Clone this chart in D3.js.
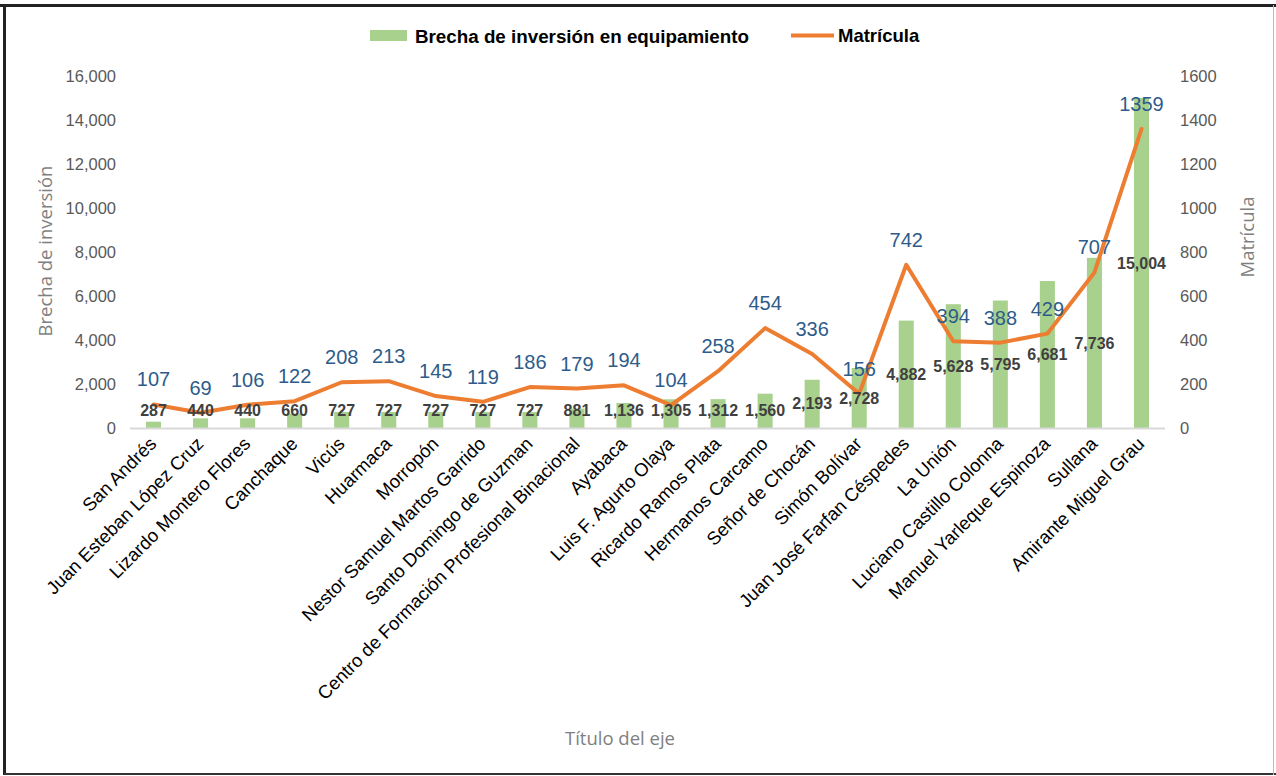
<!DOCTYPE html>
<html><head><meta charset="utf-8">
<script src="https://cdn.jsdelivr.net/npm/d3@7"></script>
<style>
html,body{margin:0;padding:0;background:#fff;}
svg{display:block;}
</style></head>
<body>
<svg id="chart" width="1276" height="776"></svg>
<script>
const categories = ["San Andrés","Juan Esteban López Cruz","Lizardo Montero Flores","Canchaque","Vicús","Huarmaca","Morropón","Nestor Samuel Martos Garrido","Santo Domingo de Guzman","Centro de Formación Profesional Binacional","Ayabaca","Luis F. Agurto Olaya","Ricardo Ramos Plata","Hermanos Carcamo","Señor de Chocán","Simón Bolívar","Juan José Farfan Céspedes","La Unión","Luciano Castillo Colonna","Manuel Yarleque Espinoza","Sullana","Amirante Miguel Grau"];
const brecha = [287,440,440,660,727,727,727,727,727,881,1136,1305,1312,1560,2193,2728,4882,5628,5795,6681,7736,15004];
const matricula = [107,69,106,122,208,213,145,119,186,179,194,104,258,454,336,156,742,394,388,429,707,1359];
const leftTicks = [0,2000,4000,6000,8000,10000,12000,14000,16000];
const rightTicks = [0,200,400,600,800,1000,1200,1400,1600];
const seriesNames = ["Brecha de inversión en equipamiento","Matrícula"];

const svg = d3.select("#chart");
const W = 1276, H = 776;
const font = "Arial, 'Liberation Sans', sans-serif";

// frame
svg.append("rect").attr("x",0).attr("y",0).attr("width",W).attr("height",H).attr("fill","#fff");
svg.append("line").attr("x1",0).attr("x2",W).attr("y1",5.5).attr("y2",5.5).attr("stroke","#222").attr("stroke-width",3);
svg.append("line").attr("x1",4.5).attr("x2",4.5).attr("y1",5).attr("y2",775).attr("stroke","#222").attr("stroke-width",3);
svg.append("line").attr("x1",4).attr("x2",W).attr("y1",774).attr("y2",774).attr("stroke","#333").attr("stroke-width",2);
svg.append("line").attr("x1",1273.5).attr("x2",1273.5).attr("y1",5).attr("y2",775).attr("stroke","#bbb").attr("stroke-width",1);

const x = d3.scaleBand().domain(categories).range([130,1165]).paddingInner(0.68).paddingOuter(0.34);
const yL = d3.scaleLinear().domain([0,16000]).range([428,76]);
const yR = d3.scaleLinear().domain([0,1600]).range([428,76]);

// left axis
const gL = svg.append("g").attr("transform","translate(130,0)")
  .call(d3.axisLeft(yL).tickValues(leftTicks).tickFormat(d3.format(",")).tickSize(0).tickPadding(14));
gL.select(".domain").remove();
gL.selectAll("text").attr("font-family",font).attr("font-size",16.5).attr("fill","#595959");

// right axis
const gR = svg.append("g").attr("transform","translate(1165,0)")
  .call(d3.axisRight(yR).tickValues(rightTicks).tickFormat(d3.format("d")).tickSize(0).tickPadding(15));
gR.select(".domain").remove();
gR.selectAll("text").attr("font-family",font).attr("font-size",16.5).attr("fill","#595959");

// bars
svg.append("g").selectAll("rect").data(brecha).join("rect")
  .attr("x",(d,i)=>x(categories[i]))
  .attr("width",x.bandwidth())
  .attr("y",d=>yL(d))
  .attr("height",d=>yL(0)-yL(d))
  .attr("fill","#A9D18E");

// x axis line
svg.append("line").attr("x1",130).attr("x2",1165).attr("y1",yL(0)+0.5).attr("y2",yL(0)+0.5)
  .attr("stroke","#D9D9D9").attr("stroke-width",2);

// category labels
const cx = c => x(c)+x.bandwidth()/2;
svg.append("g").selectAll("text").data(categories).join("text")
  .attr("transform",c=>`translate(${cx(c)+4},${yL(0)+17}) rotate(-45)`)
  .attr("text-anchor","end")
  .attr("font-family",font).attr("font-size",18.5).attr("fill","#000")
  .text(c=>c);

// line
const line = d3.line().x((d,i)=>cx(categories[i])).y(d=>yR(d));
svg.append("path").datum(matricula).attr("d",line)
  .attr("fill","none").attr("stroke","#ED7D31").attr("stroke-width",4).attr("stroke-linejoin","round").attr("stroke-linecap","round");

// bar labels (centered at half value, kept above axis)
svg.append("g").selectAll("text").data(brecha).join("text")
  .attr("x",(d,i)=>cx(categories[i]))
  .attr("y",d=>Math.min(yL(d/2), yL(0)-18))
  .attr("dy","0.35em")
  .attr("text-anchor","middle")
  .attr("font-family",font).attr("font-size",16).attr("font-weight","bold").attr("fill","#404040")
  .text(d=>d3.format(",")(d));

// line labels
svg.append("g").selectAll("text").data(matricula).join("text")
  .attr("x",(d,i)=>cx(categories[i]))
  .attr("y",d=>yR(d)-25)
  .attr("dy","0.35em")
  .attr("text-anchor","middle")
  .attr("font-family",font).attr("font-size",20).attr("fill","#2E5C8A")
  .text(d=>d);

// axis titles
const titleFont = "'Open Sans', 'Noto Sans', sans-serif";
svg.append("text").attr("transform","translate(52,251) rotate(-90)").attr("text-anchor","middle")
  .attr("font-family",titleFont).attr("font-size",18.5).attr("fill","#7F7F7F").text("Brecha de inversión");
svg.append("text").attr("transform","translate(1254,237) rotate(-90)").attr("text-anchor","middle")
  .attr("font-family",titleFont).attr("font-size",18.5).attr("fill","#7F7F7F").text("Matrícula");
svg.append("text").attr("x",620).attr("y",745).attr("text-anchor","middle")
  .attr("font-family",titleFont).attr("font-size",18.5).attr("fill","#7F7F7F").text("Título del eje");

// legend
const lg = svg.append("g");
lg.append("rect").attr("x",370).attr("y",30).attr("width",37).attr("height",11).attr("fill","#A9D18E");
lg.append("text").attr("x",415).attr("y",36).attr("dy","0.35em").attr("font-family",font).attr("font-size",18.8)
  .attr("font-weight","bold").attr("fill","#000").text(seriesNames[0]);
lg.append("line").attr("x1",791).attr("x2",834).attr("y1",35.5).attr("y2",35.5).attr("stroke","#ED7D31").attr("stroke-width",4);
lg.append("text").attr("x",838).attr("y",36).attr("dy","0.35em").attr("font-family",font).attr("font-size",18.5)
  .attr("font-weight","bold").attr("fill","#000").text(seriesNames[1]);
</script>
</body></html>
